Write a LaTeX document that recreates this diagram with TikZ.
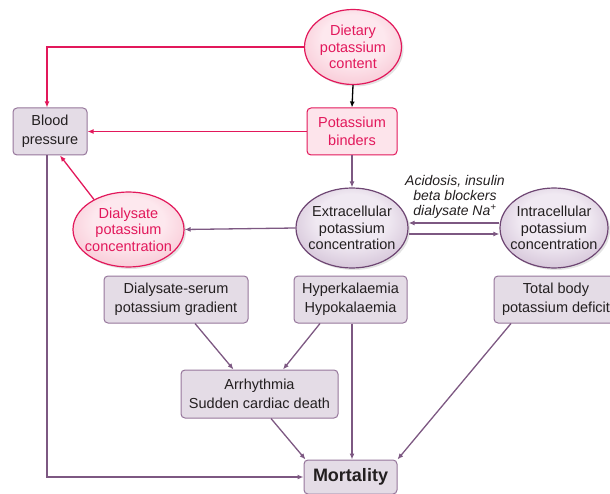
\documentclass[tikz,border=0pt]{standalone}
\usepackage{fontspec}
\setmainfont{Liberation Sans}
\usetikzlibrary{arrows.meta,shapes.geometric,shadows}
\definecolor{redl}{RGB}{226,24,91}
\definecolor{purl}{RGB}{125,88,130}
\definecolor{purb}{RGB}{110,70,115}
\definecolor{boxf}{RGB}{228,220,230}
\definecolor{boxd}{RGB}{150,118,155}
\definecolor{pinkf}{RGB}{253,228,235}
\definecolor{txt}{RGB}{35,31,32}
\definecolor{pIn}{RGB}{240,233,242}
\definecolor{pOut}{RGB}{172,142,178}
\definecolor{rIn}{RGB}{253,232,238}
\definecolor{rOut}{RGB}{242,158,180}
\pgfdeclareradialshading{purpsh}{\pgfpoint{0bp}{8bp}}{color(0bp)=(pIn); color(16bp)=(pIn); color(50bp)=(pOut)}
\pgfdeclareradialshading{pinksh}{\pgfpoint{0bp}{8bp}}{color(0bp)=(rIn); color(16bp)=(rIn); color(50bp)=(rOut)}
\begin{document}
\begin{tikzpicture}[x=1pt,y=-1pt,
  every node/.style={font=\fontsize{14.5}{18.5}\selectfont, align=center, text=txt, inner sep=0pt},
  pbox/.style={draw=boxd, fill=boxf, rounded corners=4pt, line width=1pt},
  rbox/.style={draw=redl, fill=pinkf, rounded corners=4pt, line width=1pt, text=redl},
  ellbase/.style={ellipse, inner sep=-30pt, line width=1.2pt, font=\fontsize{14.5}{16.5}\selectfont, drop shadow={opacity=0.22, shadow xshift=2pt, shadow yshift=-2pt}},
  pell/.style={ellbase, draw=purb, shading=purpsh},
  rell/.style={ellbase, draw=redl, shading=pinksh, text=redl},
  rarr/.style={draw=redl, line width=1.3pt, -{Latex[length=6pt,width=5pt]}},
  parr/.style={draw=purl, line width=1.3pt, -{Latex[length=6pt,width=5pt]}},
  karr/.style={draw=black, line width=1.3pt, -{Latex[length=6pt,width=5pt]}},
  lbl/.style={font=\fontsize{14}{15}\selectfont\itshape}
]
\useasboundingbox (0,0) rectangle (610,494);

\node[rell, minimum width=97, minimum height=75] (diet) at (353,47) {Dietary\\potassium\\content};
\node[pbox, minimum width=74, minimum height=47] (bp) at (50,131.5) {Blood\\pressure};
\node[rbox, minimum width=90, minimum height=47] (bind) at (352,131.5) {Potassium\\binders};
\node[rell, minimum width=111, minimum height=75] (dial) at (128.5,229.5) {Dialysate\\potassium\\concentration};
\node[pell, minimum width=112, minimum height=80] (ext) at (352,228) {Extracellular\\potassium\\concentration};
\node[pell, minimum width=108, minimum height=80] (intra) at (554,228) {Intracellular\\potassium\\concentration};
\node[lbl] (acid) at (455,197) {Acidosis, insulin\\beta blockers\\dialysate Na\textsuperscript{+}};
\node[pbox, minimum width=144, minimum height=47] (grad) at (176,299.5) {Dialysate-serum\\potassium gradient};
\node[pbox, minimum width=113, minimum height=47] (hyper) at (350.5,299.5) {Hyperkalaemia\\Hypokalaemia};
\node[pbox, minimum width=124, minimum height=47] (total) at (556,299.5) {Total body\\potassium deficit};
\node[pbox, minimum width=157, minimum height=48] (arr) at (259.5,394) {Arrhythmia\\Sudden cardiac death};
\node[pbox, minimum width=93, minimum height=34, font=\fontsize{18}{20}\selectfont\bfseries] (mort) at (350.5,477) {Mortality};

\draw[rarr] (diet.west) -| ([xshift=-3]bp.north);
\draw[karr] (diet.south) -- (bind.north);
\draw[rarr] (bind.west) -- (bp.east);
\draw[rarr] (dial.139) -- ([xshift=10]bp.south);
\draw[parr] (bind.south) -- (ext.north);
\draw[parr] (ext.west) -- (dial.east);
\draw[parr] ([yshift=5]intra.west) -- ([yshift=5]ext.east);
\draw[parr] ([yshift=-6]ext.east) -- ([yshift=-6]intra.west);
\draw[parr] ([xshift=-3]bp.south) |- (mort.west);
\draw[parr] ([xshift=19]grad.south) -- ([xshift=-26]arr.north);
\draw[parr] ([xshift=-30.5]hyper.south) -- ([xshift=23.5]arr.north);
\draw[parr] ([xshift=1.5]hyper.south) -- ([xshift=1.5]mort.north);
\draw[parr] ([xshift=11.5]arr.south) -- ([xshift=2]mort.north west);
\draw[parr] ([xshift=-45]total.south) -- (mort.north east);
\end{tikzpicture}
\end{document}
